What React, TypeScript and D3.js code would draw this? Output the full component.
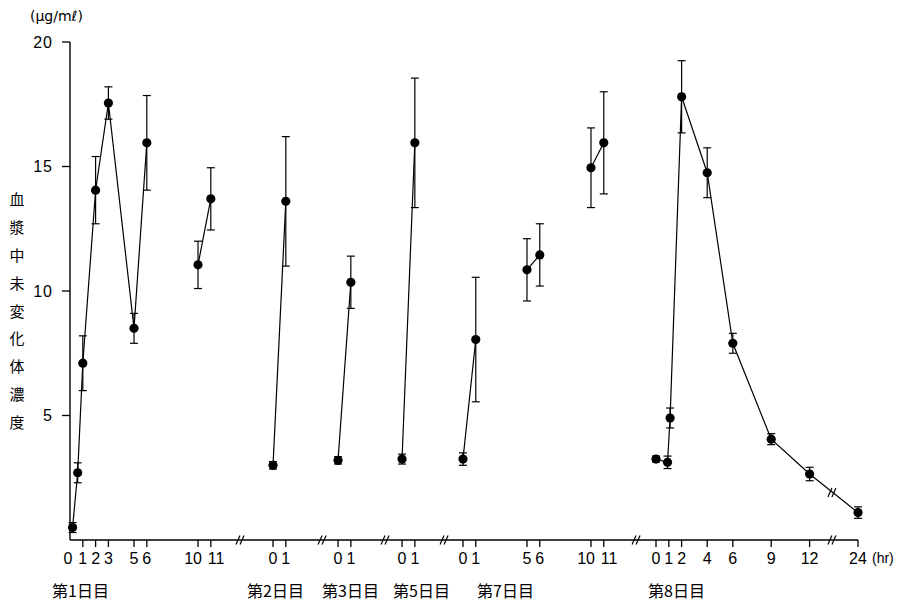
import React from "react";
import * as d3 from "d3";

// ---------- data (hours after dose, mean, SD, line group) ----------
const dayLabels = ["第1日目", "第2日目", "第3日目", "第5日目", "第7日目", "第8日目"];

const day1Hours = [0.2, 0.6, 1, 2, 3, 5, 6, 10, 11];
const day1Mean = [0.5, 2.7, 7.1, 14.05, 17.55, 8.5, 15.95, 11.05, 13.7];
const day1SD = [0.2, 0.4, 1.1, 1.35, 0.65, 0.6, 1.9, 0.95, 1.25];
const day1Group = [0, 0, 0, 0, 0, 0, 0, 1, 1];

const day2Hours = [0, 1];
const day2Mean = [3.0, 13.6];
const day2SD = [0.15, 2.6];

const day3Hours = [0, 1];
const day3Mean = [3.2, 10.35];
const day3SD = [0.15, 1.05];

const day5Hours = [0, 1];
const day5Mean = [3.25, 15.95];
const day5SD = [0.2, 2.6];

const day7Hours = [0, 1, 5, 6, 10, 11];
const day7Mean = [3.25, 8.05, 10.85, 11.45, 14.95, 15.95];
const day7SD = [0.25, 2.5, 1.25, 1.25, 1.6, 2.05];
const day7Group = [0, 0, 1, 1, 2, 2];

const day8Hours = [0, 0.9, 1.1, 2, 4, 6, 9, 12, 24];
const day8Mean = [3.25, 3.12, 4.9, 17.8, 14.75, 7.9, 4.05, 2.65, 1.1];
const day8SD = [0.12, 0.25, 0.4, 1.45, 1.0, 0.4, 0.22, 0.27, 0.23];
const day8Group = [0, 0, 0, 0, 0, 0, 0, 0, 0];

const day1Ticks = [0, 1, 2, 3, 5, 6, 10, 11];
const day2Ticks = [0, 1];
const day3Ticks = [0, 1];
const day5Ticks = [0, 1];
const day7Ticks = [0, 1, 5, 6, 10, 11];
const day8Ticks = [0, 1, 2, 4, 6, 9, 12, 24];

const yTicks = [5, 10, 15, 20];
const yTitle = "血漿中未変化体濃度";

// ---------- layout (broken time axis) ----------
const segOffset = [0, 15.86, 20.94, 25.94, 30.7, 45.78];
const lateCut = 12; // day 8 hours beyond this are after the axis break
const lateOffset = 37.56;
const axisBreaks = [13.36, 19.77, 24.69, 29.3, 44.3, 59.6];
const dayLabelX = [52, 247, 322, 393, 477, 648];

const W = 908;
const H = 601;
const FONT = "'Liberation Sans', 'DejaVu Sans', sans-serif";
const CJK = "'Noto Sans CJK JP', sans-serif";

const x = d3.scaleLinear().domain([0, 61.56]).range([70, 858]);
const y = d3.scaleLinear().domain([0, 20]).range([540, 42]);

function pos(seg: number, h: number) {
  if (seg === 5 && h > lateCut) return lateOffset + h;
  return segOffset[seg] + h;
}

type Pt = { seg: number; h: number; m: number; sd: number; g: number };

const series: Pt[][] = [
  day1Hours.map((h, i) => ({ seg: 0, h, m: day1Mean[i], sd: day1SD[i], g: day1Group[i] })),
  day2Hours.map((h, i) => ({ seg: 1, h, m: day2Mean[i], sd: day2SD[i], g: 0 })),
  day3Hours.map((h, i) => ({ seg: 2, h, m: day3Mean[i], sd: day3SD[i], g: 0 })),
  day5Hours.map((h, i) => ({ seg: 3, h, m: day5Mean[i], sd: day5SD[i], g: 0 })),
  day7Hours.map((h, i) => ({ seg: 4, h, m: day7Mean[i], sd: day7SD[i], g: day7Group[i] })),
  day8Hours.map((h, i) => ({ seg: 5, h, m: day8Mean[i], sd: day8SD[i], g: day8Group[i] })),
];

const ticksBySeg = [day1Ticks, day2Ticks, day3Ticks, day5Ticks, day7Ticks, day8Ticks];

const line = d3
  .line<Pt>()
  .x((d) => x(pos(d.seg, d.h)))
  .y((d) => y(d.m));

function BreakMark({ cx, cy }: { cx: number; cy: number }) {
  return (
    <g stroke="#000" strokeWidth={1.2}>
      <line x1={cx - 5} y1={cy + 4.5} x2={cx - 1} y2={cy - 4.5} />
      <line x1={cx - 1} y1={cy + 4.5} x2={cx + 3} y2={cy - 4.5} />
    </g>
  );
}

function tickLabelProps(h: number, s: number, ticks: number[]) {
  // two-digit labels that sit next to each other are nudged apart
  const hasNext = ticks.includes(h + 1) && h >= 10;
  const hasPrev = ticks.includes(h - 1) && h >= 11;
  if (hasNext) return { anchor: "end", dx: 4 };
  if (hasPrev) return { anchor: "start", dx: -3 };
  if (s === 0 && h === 0) return { anchor: "middle", dx: -2 };
  return { anchor: "middle", dx: 0 };
}

export default function App() {
  const pts = series.flat();
  const groups: Pt[][] = [];
  series.forEach((s) => {
    const gs = d3.groups(s, (d) => d.g);
    gs.forEach(([, arr]) => groups.push(arr));
  });

  // break on the day 8 line between 12 h and 24 h
  const d8 = series[5];
  const a = d8[d8.length - 2];
  const b = d8[d8.length - 1];
  const ax = x(pos(a.seg, a.h));
  const bx = x(pos(b.seg, b.h));
  const bkx = x(axisBreaks[5]);
  const t = (bkx - ax) / (bx - ax);
  const bky = y(a.m) + t * (y(b.m) - y(a.m));

  return (
    <svg
      width={W}
      height={H}
      style={{ position: "absolute", left: 0, top: 0, background: "#fff" }}
    >
      <rect width={W} height={H} fill="#fff" />
      {/* y axis */}
      <line x1={x(0)} y1={y(0)} x2={x(0)} y2={y(20)} stroke="#000" strokeWidth={1.4} />
      {yTicks.map((v) => (
        <g key={v}>
          <line x1={x(0) - 8} x2={x(0)} y1={y(v)} y2={y(v)} stroke="#000" strokeWidth={1.3} />
          <text
            x={53}
            y={y(v)}
            dy="0.36em"
            textAnchor="end"
            fontFamily={FONT}
            fontSize={16}
            letterSpacing={1}
          >
            {v}
          </text>
        </g>
      ))}
      <text x={30} y={21} fontFamily="'DejaVu Sans', sans-serif" fontSize={14}>
        (μg/mℓ)
      </text>
      {Array.from(yTitle).map((c, i) => (
        <text
          key={i}
          x={17}
          y={200 + i * 27.8}
          dy="0.36em"
          textAnchor="middle"
          fontFamily={CJK}
          fontSize={15}
        >
          {c}
        </text>
      ))}

      {/* x axis */}
      <line x1={x(0)} x2={x(pos(5, 24))} y1={y(0)} y2={y(0)} stroke="#000" strokeWidth={1.4} />
      {axisBreaks.map((v, i) => (
        <BreakMark key={i} cx={x(v)} cy={y(0)} />
      ))}
      {ticksBySeg.map((ticks, s) =>
        ticks.map((h) => {
          const px = x(pos(s, h));
          const lp = tickLabelProps(h, s, ticks);
          return (
            <g key={`${s}-${h}`}>
              {!(s === 0 && h === 0) && (
                <line x1={px} x2={px} y1={y(0)} y2={y(0) + 7} stroke="#000" strokeWidth={1.3} />
              )}
              <text
                x={px + lp.dx}
                y={564}
                textAnchor={lp.anchor}
                fontFamily={FONT}
                fontSize={16}
              >
                {h}
              </text>
            </g>
          );
        })
      )}
      <text x={872} y={563} fontFamily={FONT} fontSize={14}>
        (hr)
      </text>
      {dayLabels.map((l, i) => (
        <text key={l} x={dayLabelX[i]} y={597} fontFamily={CJK} fontSize={16}>
          {l}
        </text>
      ))}

      {/* lines */}
      {groups.map((g, i) =>
        g.length > 1 ? (
          <path key={i} d={line(g) || ""} fill="none" stroke="#000" strokeWidth={1.2} />
        ) : null
      )}
      <BreakMark cx={bkx} cy={bky} />

      {/* error bars */}
      {pts.map((d, i) => {
        const px = x(pos(d.seg, d.h));
        const y1 = y(d.m + d.sd);
        const y2 = y(d.m - d.sd);
        return (
          <g key={i} stroke="#000" strokeWidth={1.2}>
            <line x1={px} x2={px} y1={y1} y2={y2} />
            <line x1={px - 4} x2={px + 4} y1={y1} y2={y1} />
            <line x1={px - 4} x2={px + 4} y1={y2} y2={y2} />
          </g>
        );
      })}
      {/* markers */}
      {pts.map((d, i) => (
        <circle key={i} cx={x(pos(d.seg, d.h))} cy={y(d.m)} r={4.6} fill="#000" />
      ))}
    </svg>
  );
}
